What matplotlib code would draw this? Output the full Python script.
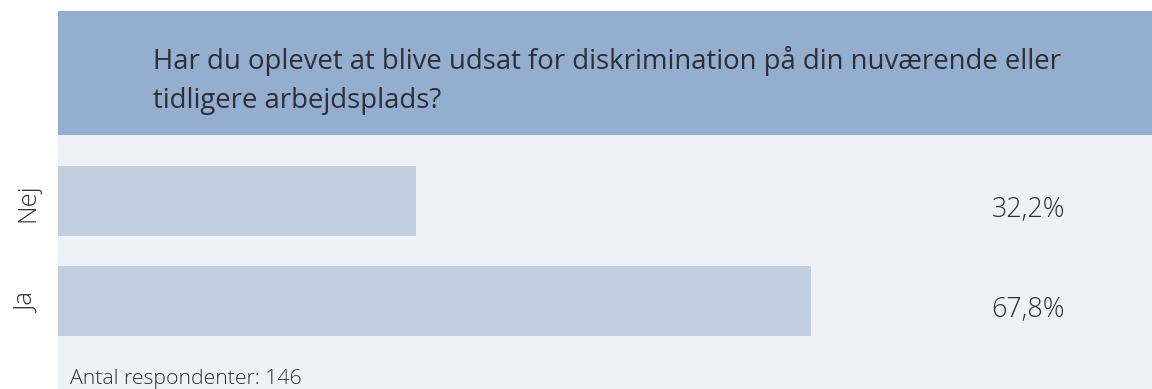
import matplotlib
matplotlib.use("Agg")
import matplotlib.pyplot as plt
from matplotlib.patches import Rectangle
import matplotlib.transforms as mtransforms

categories = ["Ja", "Nej"]
values = [67.8, 32.2]
title_lines = ["Har du oplevet at blive udsat for diskrimination på din nuværende eller",
               "tidligere arbejdsplads?"]
footnote = "Antal respondenter: 146"

W, H = 1152, 389
fig = plt.figure(figsize=(W / 100, H / 100), dpi=100)
fig.patch.set_facecolor("white")

FONT = "Open Sans"
header_col = "#94AECF"
panel_col = "#EEF2F7"
bar_col = "#C2CFE1"
text_col = "#2E2E33"

# header band
fig.patches.append(Rectangle((58 / W, (H - 135) / H), (W - 58) / W, (135 - 11) / H,
                             transform=fig.transFigure, facecolor=header_col,
                             edgecolor="none", zorder=0))
for i, line in enumerate(title_lines):
    fig.text(153 / W, (H - (69 + 39 * i)) / H, line, ha="left", va="baseline",
             fontsize=19.8, family=FONT, color=text_col)

ax = fig.add_axes([58 / W, 0, (W - 58) / W, (H - 135) / H])
ax.set_facecolor(panel_col)
ypos = list(range(len(categories)))
ax.barh(ypos, values, height=0.7, color=bar_col, zorder=2)
ax.set_xlim(0, (W - 58) / 11.11)
ax.set_ylim(-0.88, 1.66)
for s in ax.spines.values():
    s.set_visible(False)
ax.set_xticks([])
ax.set_yticks([])

trans = mtransforms.blended_transform_factory(fig.transFigure, ax.transData)
for y, cat, v in zip(ypos, categories, values):
    ax.text(1065 / W, y - 0.16, f"{v:.1f}".replace(".", ",") + "%", transform=trans,
            ha="right", va="baseline", fontsize=19.4, family=FONT, weight="light",
            color=text_col)
    ax.text(28 / W, y - 0.02, cat, transform=trans, rotation=90, ha="center", va="center",
            fontsize=18.5, family=FONT, weight="light", color=text_col)

fig.text(70 / W, (H - 384) / H, footnote, ha="left", va="baseline", fontsize=15.3,
         family=FONT, weight="light", color=text_col)

fig.savefig("out.png", dpi=100)
